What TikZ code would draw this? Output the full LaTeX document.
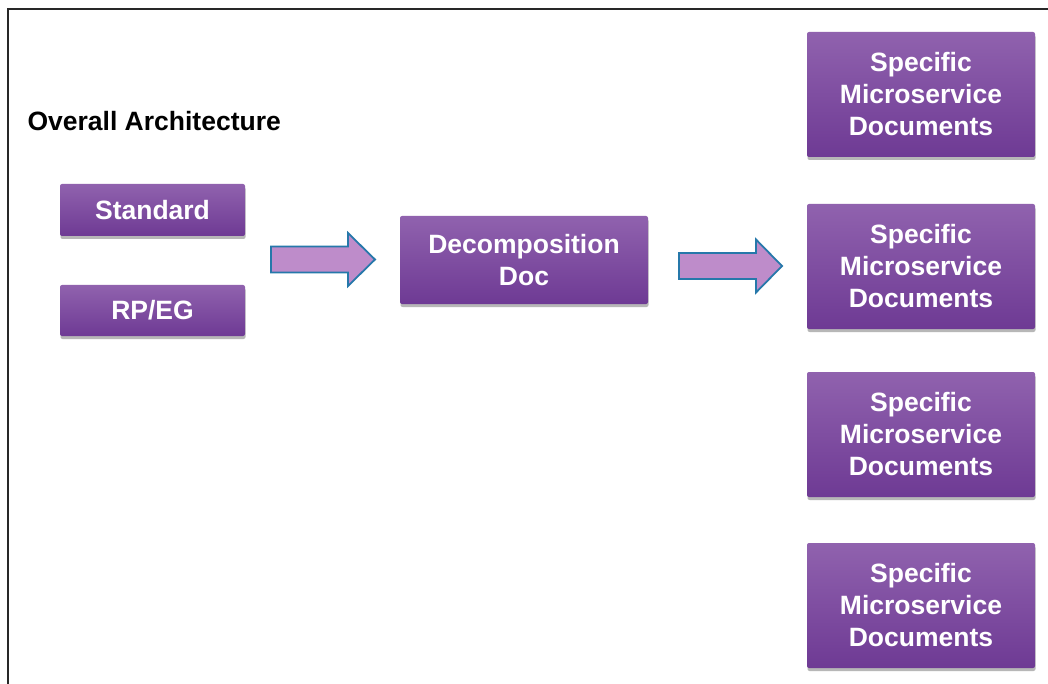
\documentclass[tikz,border=0pt]{standalone}
\usepackage{fontspec}
\setmainfont{Liberation Sans}
\usetikzlibrary{shadows}
\definecolor{boxtop}{RGB}{144,98,174}
\definecolor{boxbot}{RGB}{110,58,148}
\definecolor{arrfill}{RGB}{190,140,202}
\definecolor{arrline}{RGB}{38,120,170}
\definecolor{framec}{RGB}{40,40,40}
\tikzset{
  pbox/.style={rectangle, rounded corners=2pt, top color=boxtop, bottom color=boxbot,
    draw=none, text=white, align=center, inner sep=0pt,
    font=\fontsize{26.5}{32}\selectfont\bfseries,
    drop shadow={shadow xshift=0.5pt, shadow yshift=-3pt, opacity=0.4, fill=black!70}},
  blockarrow/.style={fill=arrfill, draw=arrline, line width=1.8pt, line join=miter},
  frameline/.style={draw=framec, line width=1.6pt}
}
\begin{document}
\begin{tikzpicture}[x=1pt,y=-1pt]
\useasboundingbox (0,0) rectangle (1048,684);
\fill[white] (0,0) rectangle (1048,684);
\draw[frameline] (8,690) -- (8,9) -- (1052,9);

\node[anchor=base west, font=\fontsize{26.5}{32}\selectfont\bfseries] (title) at (24,131) {Overall Architecture};

\node[pbox, minimum width=185pt, minimum height=52pt] (std) at (152.5,210) {Standard};
\node[pbox, minimum width=185pt, minimum height=51pt] (rpeg) at (152.5,310.5) {RP/EG};
\node[pbox, minimum width=248pt, minimum height=88pt] (dec) at (524,260) {Decomposition\\Doc};

\node[pbox, minimum width=228pt, minimum height=125pt] (s1) at (921,94.5) {Specific\\Microservice\\Documents};
\node[pbox, minimum width=228pt, minimum height=125pt] (s2) at (921,266.5) {Specific\\Microservice\\Documents};
\node[pbox, minimum width=228pt, minimum height=125pt] (s3) at (921,434.5) {Specific\\Microservice\\Documents};
\node[pbox, minimum width=228pt, minimum height=125pt] (s4) at (921,605.5) {Specific\\Microservice\\Documents};

% block arrows
\coordinate (a1) at (271,259.5);
\coordinate (a2) at (679,266);
\draw[blockarrow] (a1) ++(0,-13) -- ++(77,0) -- ++(0,-13.5) -- ++(27,26.5) -- ++(-27,26.5) -- ++(0,-13.5) -- ++(-77,0) -- cycle;
\draw[blockarrow] (a2) ++(0,-13) -- ++(77,0) -- ++(0,-13.5) -- ++(26,26.5) -- ++(-26,26.5) -- ++(0,-13.5) -- ++(-77,0) -- cycle;
\end{tikzpicture}
\end{document}
